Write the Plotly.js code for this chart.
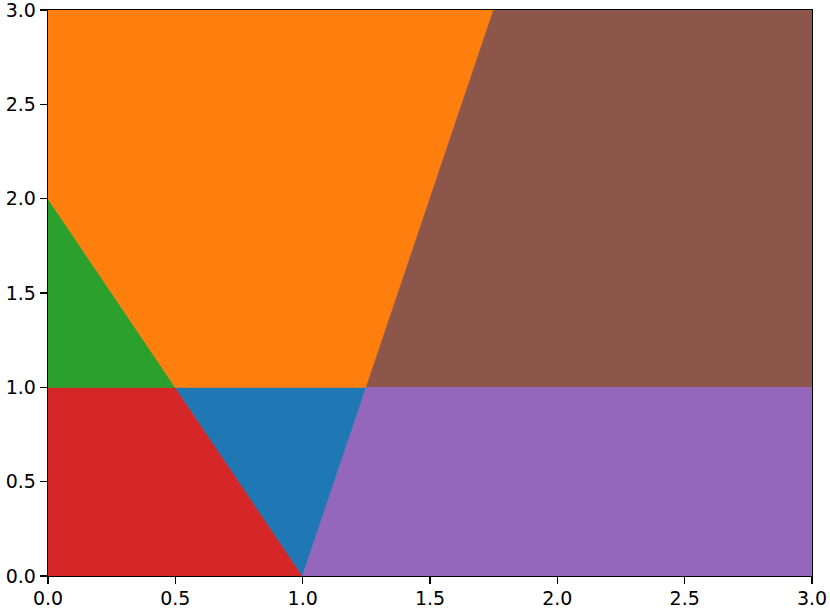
<html lang="en">
  <head>
    <meta charset="UTF-8" />
    <script src="https://cdn.plot.ly/plotly-3.0.1.min.js"></script>
    <title>Regions</title>
  </head>
  <body style="margin: 0">
    <div id="chart" style="width: 830px; height: 610px"></div>
    <script>
      // polygon vertices for each region
      const redX = [0, 1, 0.5, 0, 0];
      const redY = [0, 0, 1, 1, 0];
      const blueX = [0.5, 1, 1.25, 0.5];
      const blueY = [1, 0, 1, 1];
      const greenX = [0, 0.5, 0, 0];
      const greenY = [1, 1, 2, 1];
      const orangeX = [0, 0.5, 1.25, 1.75, 0, 0];
      const orangeY = [2, 1, 1, 3, 3, 2];
      const brownX = [1.25, 1.75, 3, 3, 1.25];
      const brownY = [1, 3, 3, 1, 1];
      const purpleX = [1, 3, 3, 1.25, 1];
      const purpleY = [0, 0, 1, 1, 0];
      const tickVals = [0, 0.5, 1, 1.5, 2, 2.5, 3];
      const tickText = ["0.0", "0.5", "1.0", "1.5", "2.0", "2.5", "3.0"];

      function region(x, y, color) {
        return {
          x: x,
          y: y,
          type: "scatter",
          mode: "lines",
          fill: "toself",
          fillcolor: color,
          line: { width: 0.8, color: color },
          hoverinfo: "skip",
        };
      }

      const data = [
        region(redX, redY, "#d62728"),
        region(blueX, blueY, "#1f77b4"),
        region(greenX, greenY, "#2ca02c"),
        region(orangeX, orangeY, "#ff7f0e"),
        region(brownX, brownY, "#8c564b"),
        region(purpleX, purpleY, "#9467bd"),
      ];

      const axis = {
        range: [0, 3],
        tickvals: tickVals,
        ticktext: tickText,
        ticks: "outside",
        ticklen: 7,
        tickwidth: 1.3,
        tickcolor: "black",
        showgrid: false,
        zeroline: false,
        showline: true,
        mirror: true,
        linecolor: "black",
        linewidth: 1.3,
        layer: "above traces",
        ticklabeloverflow: "allow",
        tickfont: { family: "DejaVu Sans", size: 19, color: "black" },
      };

      Plotly.newPlot(
        "chart",
        data,
        {
          width: 830,
          height: 610,
          showlegend: false,
          margin: { l: 48, r: 18, t: 10, b: 34 },
          paper_bgcolor: "white",
          plot_bgcolor: "white",
          xaxis: Object.assign({}, axis, { ticklabelstandoff: -2 }),
          yaxis: axis,
        },
        { displayModeBar: false, staticPlot: true }
      );
    </script>
  </body>
</html>
